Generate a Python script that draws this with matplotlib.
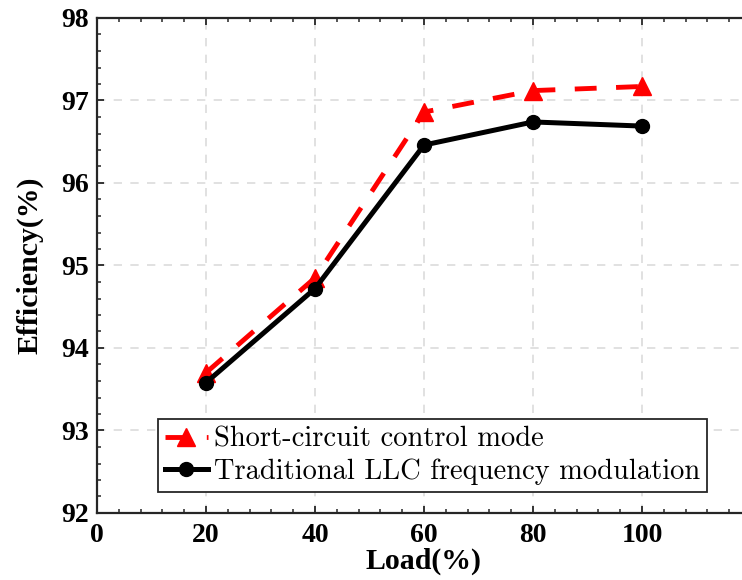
import matplotlib
matplotlib.use("Agg")
import matplotlib.pyplot as plt
from matplotlib.ticker import MultipleLocator

load = [20, 40, 60, 80, 100]
eff_short = [93.70, 94.85, 96.86, 97.12, 97.17]
eff_llc = [93.58, 94.72, 96.46, 96.74, 96.69]

x_ticks = [0, 20, 40, 60, 80, 100]
y_ticks = [92, 93, 94, 95, 96, 97, 98]

SERIF = ["Liberation Serif", "DejaVu Serif"]

fig = plt.figure(figsize=(7.42, 5.80), dpi=100)
# axes run a bit past the right edge of the image, like the original
ax = fig.add_axes([97 / 742, 1 - 513 / 580, 654 / 742, 495 / 580])

ax.plot(load, eff_short, color="#ff0000", lw=3.5, ls=(0, (4.5, 4)),
        marker="^", ms=13, mec="#ff0000", mfc="#ff0000",
        label="Short-circuit control mode", zorder=3)
ax.plot(load, eff_llc, color="black", lw=3.6, marker="o", ms=10,
        mec="black", mfc="black",
        label="Traditional LLC frequency modulation", zorder=4)

ax.set_xlim(0, 120)
ax.set_ylim(92, 98)
ax.set_xticks(x_ticks)
ax.set_yticks(y_ticks)
ax.xaxis.set_minor_locator(MultipleLocator(4))
ax.yaxis.set_minor_locator(MultipleLocator(0.2))
ax.tick_params(which="both", direction="in", top=True, right=True,
               color="#262626")
ax.tick_params(which="major", length=5, width=1.3)
ax.tick_params(which="minor", length=2.6, width=1.1)
ax.tick_params(axis="x", which="major", pad=7)
ax.tick_params(axis="y", which="major", pad=6)
for lab in ax.get_xticklabels() + ax.get_yticklabels():
    lab.set_family(SERIF)
    lab.set_fontweight("bold")
    lab.set_fontsize(20)

ax.grid(True, which="major", color="#dcdcdc", lw=1.2, ls=(0, (5, 5)))
for sp in ax.spines.values():
    sp.set_linewidth(1.6)
    sp.set_color("#262626")

ax.set_xlabel("Load(%)", family=SERIF, fontweight="bold", fontsize=21.5)
ax.set_ylabel("Efficiency(%)", family=SERIF, fontweight="bold", fontsize=21.5)
ax.xaxis.set_label_coords(0.5, -0.07)
ax.yaxis.set_label_coords(-0.082, 0.5)

leg = ax.legend(loc="lower left", bbox_to_anchor=(0.0933, 0.0424),
                prop={"family": ["cmr10", "DejaVu Serif"], "size": 20.5},
                handlelength=1.5, handletextpad=0.2, borderpad=0.25,
                borderaxespad=0, labelspacing=0.2, fancybox=False,
                framealpha=1, edgecolor="#262626")
leg.get_frame().set_linewidth(1.3)

fig.savefig("out.png", dpi=100)
